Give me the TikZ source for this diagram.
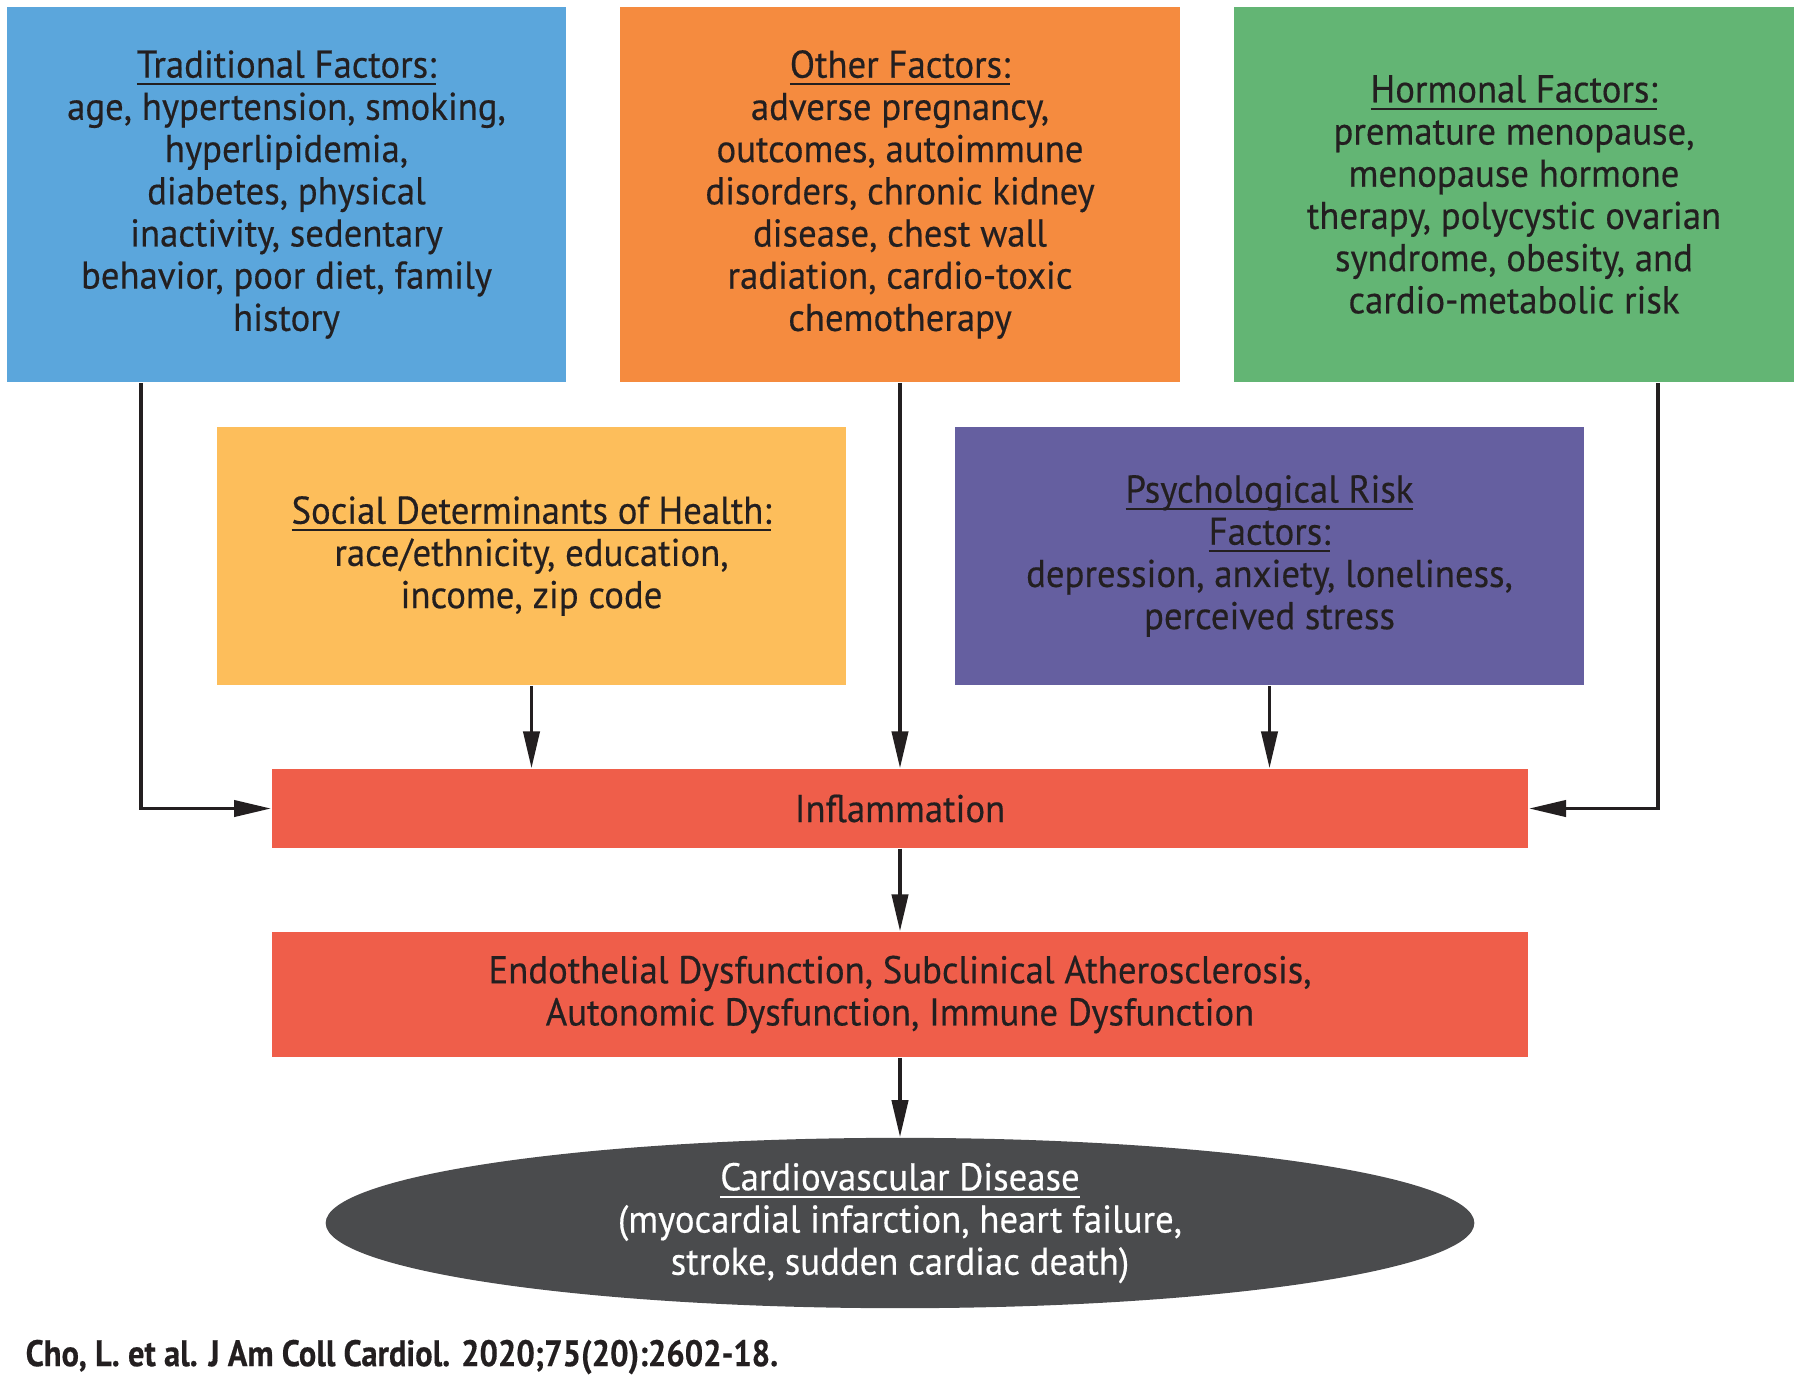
\documentclass[tikz,border=0pt]{standalone}
\usepackage{fontspec}
\setmainfont{PT Sans}[FakeStretch=0.95,FakeBold=0.4,BoldFeatures={FakeStretch=0.88}]
\usetikzlibrary{arrows.meta,shapes.geometric}
\definecolor{cblue}{HTML}{5BA6DC}
\definecolor{corange}{HTML}{F58B3F}
\definecolor{cgreen}{HTML}{63B574}
\definecolor{cyellow}{HTML}{FDBE5B}
\definecolor{cpurple}{HTML}{655FA0}
\definecolor{cred}{HTML}{EF5E4A}
\definecolor{cdark}{HTML}{4A4B4D}
\definecolor{ctext}{HTML}{231F20}
\newlength\myulw
\newcommand\myul[1]{\settowidth\myulw{#1}\rlap{\rule[-2.2pt]{\myulw}{0.6pt}}#1}
\tikzset{
  box/.style={rectangle, inner sep=0pt, align=center, text=ctext,
    font=\fontsize{11}{12}\selectfont},
  arr/.style={draw=ctext, line width=1pt, -{Triangle[length=10.5pt,width=4.6pt]}},
}
\begin{document}
\begin{tikzpicture}[x=0.01cm,y=-0.01cm]
\useasboundingbox[fill=white] (0,0) rectangle (1800,1378);
\node[box, fill=cblue, minimum width=5.59cm, minimum height=3.75cm] (trad) at (286.5,194.5)
  {\myul{Traditional Factors:}\\age, hypertension, smoking,\\hyperlipidemia,\\diabetes, physical\\inactivity, sedentary\\behavior, poor diet, family\\history};
\node[box, fill=corange, minimum width=5.6cm, minimum height=3.75cm] (other) at (900,194.5)
  {\myul{Other Factors:}\\adverse pregnancy,\\outcomes, autoimmune\\disorders, chronic kidney\\disease, chest wall\\radiation, cardio-toxic\\chemotherapy};
\node[box, fill=cgreen, minimum width=5.6cm, minimum height=3.75cm] (horm) at (1514,194.5)
  {\myul{Hormonal Factors:}\\premature menopause,\\menopause hormone\\therapy, polycystic ovarian\\syndrome, obesity, and\\cardio-metabolic risk};
\node[box, fill=cyellow, minimum width=6.29cm, minimum height=2.58cm] (social) at (531.5,556)
  {\myul{Social Determinants of Health:}\\race/ethnicity, education,\\income, zip code};
\node[box, fill=cpurple, minimum width=6.29cm, minimum height=2.58cm] (psych) at (1269.5,556)
  {\myul{Psychological Risk}\\\myul{Factors:}\\depression, anxiety, loneliness,\\perceived stress};
\node[box, fill=cred, minimum width=12.56cm, minimum height=0.79cm] (infl) at (900,808.5)
  {Inflammation};
\node[box, fill=cred, minimum width=12.56cm, minimum height=1.25cm] (endo) at (900,994.5)
  {Endothelial Dysfunction, Subclinical Atherosclerosis,\\Autonomic Dysfunction, Immune Dysfunction};
\node[box, ellipse, fill=cdark, text=white, minimum width=11.48cm, minimum height=1.66cm] (cvd) at (900,1223)
  {\myul{Cardiovascular Disease}\\(myocardial infarction, heart failure,\\stroke, sudden cardiac death)};
\node[anchor=west, inner sep=0pt, text=ctext, font=\fontsize{10.5}{12}\selectfont\bfseries] (cite) at (25,1357)
  {Cho, L. et al. J Am Coll Cardiol. 2020;75(20):2602-18.};
\coordinate (tl) at (141,809);
\coordinate (tr) at (1658,809);
\draw[arr] (trad.south -| tl) |- (infl.west);
\draw[arr] (horm.south -| tr) |- (infl.east);
\draw[arr] (other.south) -- (infl.north);
\draw[arr] (social.south) -- (social.south |- infl.north);
\draw[arr] (psych.south) -- (psych.south |- infl.north);
\draw[arr] (infl.south) -- (endo.north);
\draw[arr] (endo.south) -- (cvd.north);
\end{tikzpicture}
\end{document}
